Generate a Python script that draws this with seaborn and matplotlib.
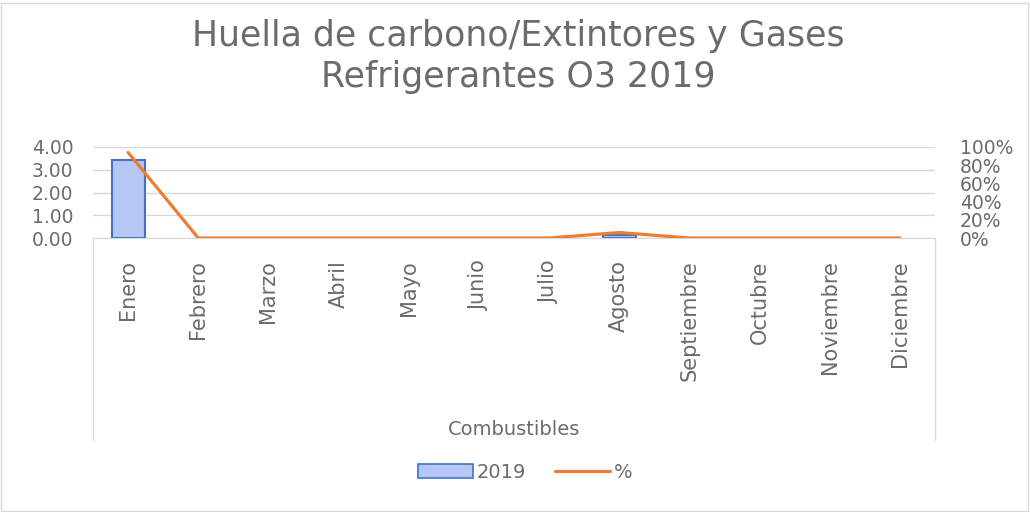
import matplotlib.pyplot as plt
import seaborn as sns
import pandas as pd
from matplotlib.lines import Line2D
from matplotlib.patches import Rectangle

months = ['Enero', 'Febrero', 'Marzo', 'Abril', 'Mayo', 'Junio', 'Julio',
          'Agosto', 'Septiembre', 'Octubre', 'Noviembre', 'Diciembre']
values_2019 = [3.45, 0, 0, 0, 0, 0, 0, 0.12, 0, 0, 0, 0]
percent = [0.94, 0, 0, 0, 0, 0, 0, 0.06, 0, 0, 0, 0]

df = pd.DataFrame({'mes': months, '2019': values_2019, 'pct': percent})

sns.set_style("white")
plt.rcParams['font.family'] = ['DejaVu Sans']
gray = '#6b6b6b'

fig = plt.figure(figsize=(10.3, 5.12), dpi=100)
ax = fig.add_axes([93 / 1030, 1 - 238 / 512, (935 - 93) / 1030, (238 - 147) / 512])

sns.barplot(data=df, x='mes', y='2019', color='#b4c7f5', edgecolor='#4472c4',
            linewidth=1.5, width=0.47, ax=ax, saturation=1)
# hide outlines of empty bars
for p in ax.patches:
    if p.get_height() == 0:
        p.set_visible(False)
ax.set_ylim(0, 4)
ax.set_yticks([0, 1, 2, 3, 4])
ax.set_yticklabels(['0.00', '1.00', '2.00', '3.00', '4.00'])
ax.yaxis.grid(True, color='#d9d9d9', linewidth=1)
ax.set_axisbelow(True)
for s in ['top', 'left', 'right']:
    ax.spines[s].set_visible(False)
ax.spines['bottom'].set_color('#d9d9d9')
ax.tick_params(axis='y', labelsize=13.5, colors=gray, length=0, pad=14)
ax.tick_params(axis='x', labelsize=15, colors=gray, length=0, rotation=90, pad=16)
ax.set_xlabel('Combustibles', fontsize=14, color=gray, labelpad=28)
ax.set_ylabel('')

ax2 = ax.twinx()
sns.lineplot(data=df, x='mes', y='pct', color='#ed7d31', linewidth=2.3, ax=ax2)
ax2.set_ylim(0, 1)
ax2.set_yticks([0, 0.2, 0.4, 0.6, 0.8, 1.0])
ax2.set_yticklabels(['0%', '20%', '40%', '60%', '80%', '100%'])
ax2.tick_params(axis='y', labelsize=13.5, colors=gray, length=0, pad=18)
ax2.set_ylabel('')
for s in ['top', 'left', 'right', 'bottom']:
    ax2.spines[s].set_visible(False)
ax.set_xlim(-0.5, 11.5)

# axis area side lines
for xp in [93, 935]:
    fig.add_artist(Line2D([xp / 1030, xp / 1030], [1 - 238 / 512, 1 - 440 / 512],
                          color='#d9d9d9', linewidth=1))

fig.text(0.503, 0.89, 'Huella de carbono/Extintores y Gases\nRefrigerantes O3 2019',
         ha='center', va='center', fontsize=25, color=gray, linespacing=1.25)

handles = [Rectangle((0, 0), 1, 1, facecolor='#b4c7f5', edgecolor='#4472c4', linewidth=1.2),
           Line2D([0], [0], color='#ed7d31', linewidth=2.3)]
fig.legend(handles, ['2019', '%'], loc='center', bbox_to_anchor=(0.51, 1 - 472 / 512),
           ncol=2, frameon=False, fontsize=14, labelcolor=gray, handlelength=2.8,
           handletextpad=0.2, columnspacing=1.5)

fig.add_artist(Rectangle((0.5 / 1030, 1.5 / 512), 1027 / 1030, 508 / 512, fill=False,
                         edgecolor='#d9d9d9', linewidth=1, transform=fig.transFigure))

fig.savefig('out.png', dpi=100)
